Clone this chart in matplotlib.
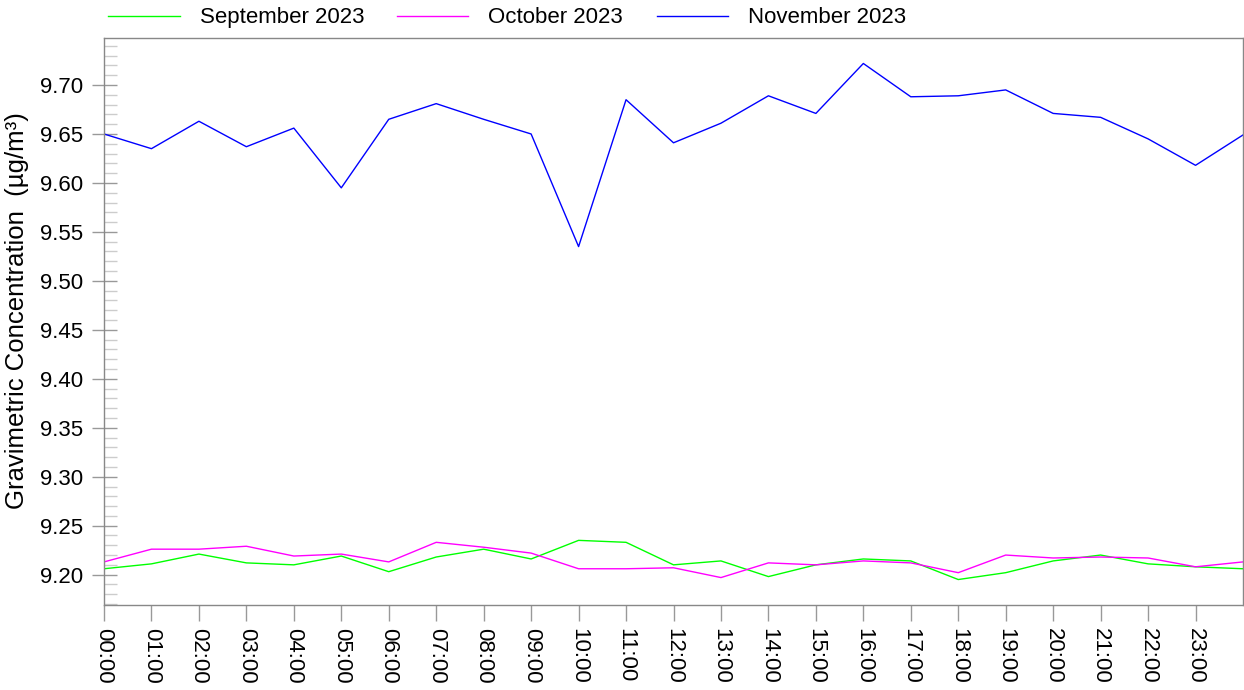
import numpy as np
import matplotlib
matplotlib.use("Agg")
import matplotlib.pyplot as plt
from matplotlib.ticker import MultipleLocator, FormatStrFormatter

plt.rcParams["font.family"] = ["Liberation Sans", "DejaVu Sans"]

# Heures 00:00 .. 24:00 (le dernier point reprend 00:00)
hours = list(range(25))
tick_labels = [f"{h:02d}:00" for h in range(24)]

september = [9.206, 9.211, 9.221, 9.212, 9.210, 9.219, 9.203, 9.218, 9.226, 9.216,
             9.235, 9.233, 9.210, 9.214, 9.198, 9.210, 9.216, 9.214, 9.195, 9.202,
             9.214, 9.220, 9.211, 9.208, 9.206]
october = [9.213, 9.226, 9.226, 9.229, 9.219, 9.221, 9.213, 9.233, 9.228, 9.222,
           9.206, 9.206, 9.207, 9.197, 9.212, 9.210, 9.214, 9.212, 9.202, 9.220,
           9.217, 9.218, 9.217, 9.208, 9.213]
november = [9.650, 9.635, 9.663, 9.637, 9.656, 9.595, 9.665, 9.681, 9.665, 9.650,
            9.535, 9.685, 9.641, 9.661, 9.689, 9.671, 9.722, 9.688, 9.689, 9.695,
            9.671, 9.667, 9.645, 9.618, 9.649]

series = [
    ("September 2023", september, "#00ff00"),
    ("October 2023", october, "#ff00ff"),
    ("November 2023", november, "#0000ff"),
]

fig = plt.figure(figsize=(12.44, 6.9), dpi=100)
ax = fig.add_axes([0.0836, 0.1232, 0.9156, 0.8217])

for name, values, color in series:
    ax.plot(hours, values, color=color, linewidth=1.0, label=name)

ax.set_xlim(0, 24)
ax.set_ylim(9.169, 9.748)

ax.set_xticks(range(24))
ax.set_xticklabels(tick_labels, rotation=-90, fontsize=16)
ax.yaxis.set_major_locator(MultipleLocator(0.05))
ax.yaxis.set_minor_locator(MultipleLocator(0.01))
ax.yaxis.set_major_formatter(FormatStrFormatter("%.2f"))

ax.tick_params(axis="x", which="major", direction="out", length=11.5,
               width=1, color="#999999", pad=5, labelsize=16)
ax.tick_params(axis="y", which="major", direction="inout", length=18,
               width=1, color="#999999", pad=6, labelsize=16)
ax.tick_params(axis="y", which="minor", direction="in", length=9,
               width=1, color="#cccccc")

for sp in ax.spines.values():
    sp.set_color("#888888")
    sp.set_linewidth(1)

ax.set_ylabel("Gravimetric Concentration  (µg/m³)", fontsize=18.5)
ax.yaxis.set_label_coords(-0.066, 0.52)

ax.legend(loc="lower left", bbox_to_anchor=(0.0, 1.009), ncol=3, frameon=False,
          fontsize=16, handlelength=3.2, handletextpad=0.9, columnspacing=1.5,
          borderaxespad=0.0, borderpad=0.2)

fig.savefig("out.png", dpi=100)
